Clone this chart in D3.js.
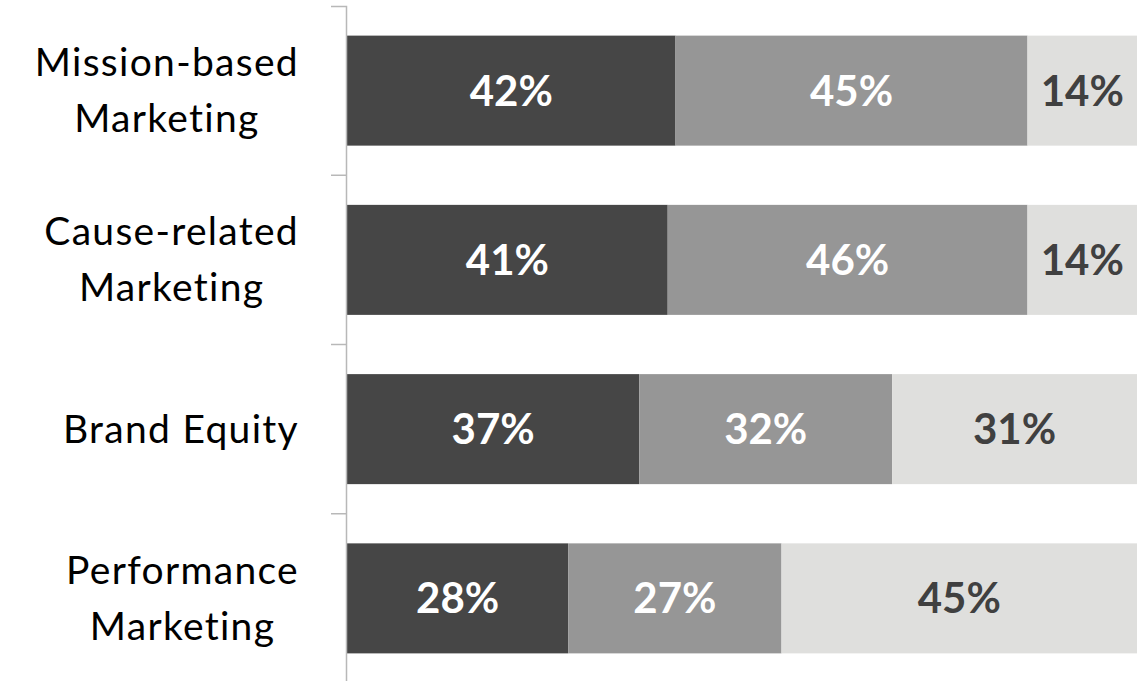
<!DOCTYPE html>
<html>
<head>
<meta charset="utf-8">
<script src="https://cdn.jsdelivr.net/npm/d3@7"></script>
<style>
  html, body { margin: 0; padding: 0; background: #ffffff; }
  svg { display: block; }
</style>
</head>
<body>
<svg id="chart" width="1142" height="681"></svg>
<script>
// Categories, top to bottom; "\n" marks a wrapped line
const categories = [
  "Mission-based\nMarketing",
  "Cause-related\nMarketing",
  "Brand Equity",
  "Performance\nMarketing"
];

// Stacked segment shares (%) per category, left to right
const segment1 = [42, 41, 37, 28];
const segment2 = [45, 46, 32, 27];
const segment3 = [14, 14, 31, 45];

const segmentKeys = ["segment1", "segment2", "segment3"];
const segmentColors = ["#464646", "#969696", "#dfdfdd"];
const labelColors = ["#ffffff", "#ffffff", "#404040"];

const rows = categories.map((c, i) => ({
  category: c,
  segment1: segment1[i],
  segment2: segment2[i],
  segment3: segment3[i]
}));

const svg = d3.select("#chart");

// Each row is normalised to the full bar width
const stack = d3.stack().keys(segmentKeys).offset(d3.stackOffsetExpand);
const layers = stack(rows);

const x = d3.scaleLinear().domain([0, 1]).range([347, 1137]);
const y = d3.scaleBand()
  .domain(categories)
  .range([6, 683])
  .paddingInner(0.35)
  .paddingOuter(0.175);

// Bars
const layerG = svg.append("g")
  .selectAll("g")
  .data(layers)
  .join("g")
  .attr("fill", (d, i) => segmentColors[i]);

layerG.selectAll("rect")
  .data(d => d)
  .join("rect")
  .attr("x", d => x(d[0]))
  .attr("y", d => y(d.data.category))
  .attr("width", d => x(d[1]) - x(d[0]))
  .attr("height", y.bandwidth());

// Value labels
layers.forEach((layer, li) => {
  svg.append("g")
    .selectAll("text")
    .data(layer)
    .join("text")
    .attr("x", d => (x(d[0]) + x(d[1])) / 2)
    .attr("y", d => y(d.data.category) + y.bandwidth() / 2)
    .attr("dy", "0.36em")
    .attr("text-anchor", "middle")
    .attr("font-family", "Lato, 'Open Sans', sans-serif")
    .attr("font-weight", 700)
    .attr("font-size", 42)
    .attr("fill", labelColors[li])
    .text(d => d.data[layer.key] + "%");
});

// Category axis
const axis = d3.axisLeft(y).tickSize(0).tickSizeOuter(15).tickFormat("");
const axisG = svg.append("g")
  .attr("transform", "translate(346,0)")
  .call(axis);
axisG.select(".domain").attr("stroke", "#b8b8b8").attr("stroke-width", 1.5);

// Tick marks between bands
const step = y.step();
const boundaries = categories.slice(1).map(c => y(c) - step * y.paddingInner() / 2);
axisG.selectAll(".boundary")
  .data(boundaries)
  .join("line")
  .attr("class", "boundary")
  .attr("x1", -15).attr("x2", 0)
  .attr("y1", d => d).attr("y2", d => d)
  .attr("stroke", "#b8b8b8")
  .attr("stroke-width", 1.5);

// Category labels: lines centred within a right-aligned block
const lineGap = 56;
const capHalf = 13.5;
const labelRight = 299;
categories.forEach(c => {
  const lines = c.split("\n");
  const cy = y(c) + y.bandwidth() / 2;
  const g = svg.append("g");
  const texts = g.selectAll("text")
    .data(lines)
    .join("text")
    .attr("y", (d, i) => cy + capHalf + (i - (lines.length - 1) / 2) * lineGap)
    .attr("text-anchor", "middle")
    .attr("font-family", "Lato, 'Open Sans', sans-serif")
    .attr("font-size", 39)
    .attr("letter-spacing", 1.3)
    .attr("fill", "#000000")
    .text(d => d);
  let maxW = 0;
  texts.each(function () { maxW = Math.max(maxW, this.getComputedTextLength()); });
  texts.attr("x", labelRight - maxW / 2);
});
</script>
</body>
</html>
